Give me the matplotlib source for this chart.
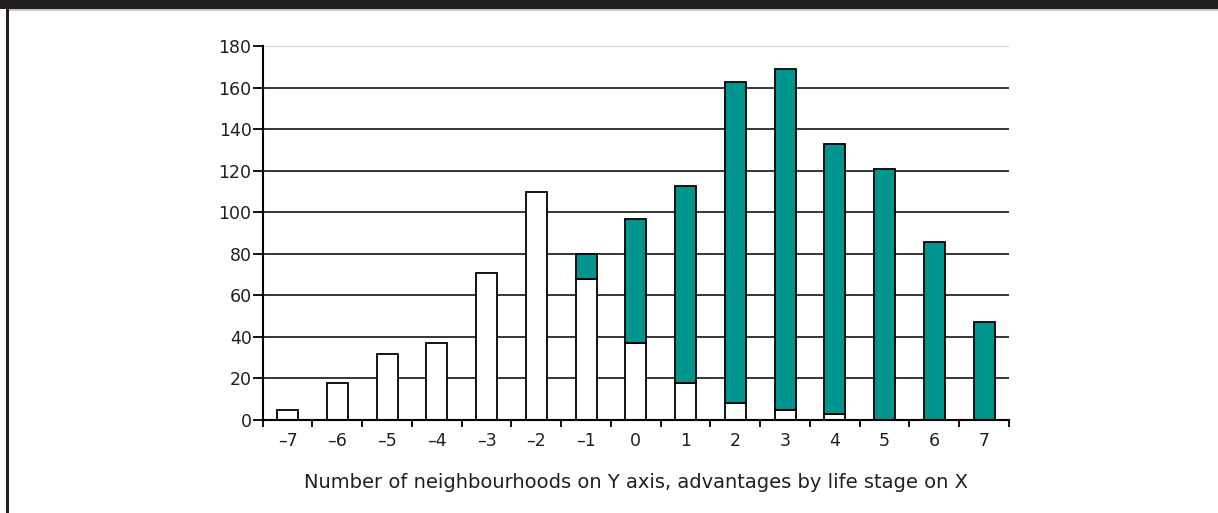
import matplotlib
matplotlib.use("Agg")
import matplotlib.pyplot as plt
from matplotlib.patches import Rectangle

# advantage score by life stage (x) and neighbourhood counts (y)
stages = [-7, -6, -5, -4, -3, -2, -1, 0, 1, 2, 3, 4, 5, 6, 7]
stage_labels = ["\u20137", "\u20136", "\u20135", "\u20134", "\u20133", "\u20132", "\u20131",
                "0", "1", "2", "3", "4", "5", "6", "7"]
white_part = [5, 18, 32, 37, 71, 110, 68, 37, 18, 8, 5, 3, 0, 0, 0]
teal_part = [0, 0, 0, 0, 0, 0, 12, 60, 95, 155, 164, 130, 121, 86, 47]
y_ticks = [0, 20, 40, 60, 80, 100, 120, 140, 160, 180]

TEAL = "#00968f"
DARK = "#231f20"

plt.rcParams["font.family"] = ["DejaVu Sans"]

fig = plt.figure(figsize=(12.18, 5.13), dpi=100)
ax = fig.add_axes([0.2157, 0.1813, 0.6127, 0.7281])

# frame decoration: dark header band + left rule
fig.patches.append(Rectangle((0, 1 - 9 / 513), 1, 9 / 513, transform=fig.transFigure,
                             facecolor=DARK, edgecolor="none", zorder=0))
fig.patches.append(Rectangle((6 / 1218, 0), 3 / 1218, 1, transform=fig.transFigure,
                             facecolor=DARK, edgecolor="none", zorder=0))
fig.patches.append(Rectangle((9 / 1218, 1 - 10.5 / 513), 1, 1.2 / 513, transform=fig.transFigure,
                             facecolor="#c8c8c8", edgecolor="none", zorder=0))

width = 0.42
for x, w, t in zip(stages, white_part, teal_part):
    if w > 0:
        ax.bar(x, w, width=width, color="white", edgecolor="black", linewidth=1.3, zorder=3)
    if t > 0:
        ax.bar(x, t, width=width, bottom=w, color=TEAL, edgecolor="black", linewidth=1.3, zorder=3)

for y in y_ticks[1:-1]:
    ax.axhline(y, color="black", linewidth=1.1, zorder=1)
ax.axhline(180, color="#c8c8c8", linewidth=1.2, zorder=1)

ax.set_xlim(-7.5, 7.5)
ax.set_ylim(0, 180)
ax.set_yticks(y_ticks)
ax.set_xticks([s - 0.5 for s in stages] + [7.5])
ax.set_xticklabels([])
ax.set_xticks(stages, minor=True)
ax.set_xticklabels(stage_labels, minor=True)
ax.tick_params(axis="x", which="major", direction="out", length=5, width=1.3, color="black")
ax.tick_params(axis="x", which="minor", length=0, pad=9, labelsize=12.5, labelcolor="#231f20")
ax.tick_params(axis="y", direction="out", length=7, width=1.3, pad=1, labelsize=12.5,
               labelcolor="#231f20")

for side in ["top", "right"]:
    ax.spines[side].set_visible(False)
for side in ["left", "bottom"]:
    ax.spines[side].set_linewidth(1.5)
    ax.spines[side].set_zorder(4)

fig.text(0.522, 1 - 482 / 513, "Number of neighbourhoods on Y axis, advantages by life stage on X",
         ha="center", va="center", fontsize=14, color="#231f20")

fig.savefig("out.png", dpi=100)
